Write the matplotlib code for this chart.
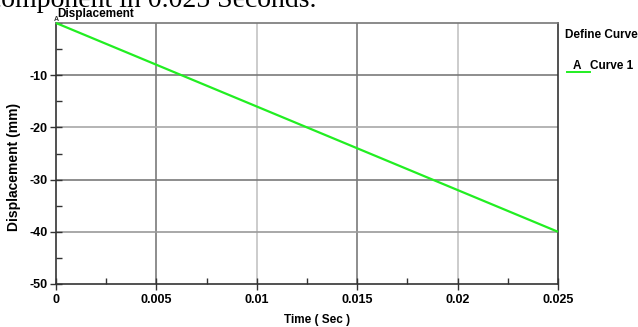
import matplotlib
matplotlib.use("Agg")
import matplotlib.pyplot as plt
from matplotlib.ticker import MultipleLocator

# Curve data: displacement vs time
time_sec = [0.0, 0.025]
displacement_mm = [0.0, -40.0]
x_ticks = [0, 0.005, 0.01, 0.015, 0.02, 0.025]
x_tick_labels = ["0", "0.005", "0.01", "0.015", "0.02", "0.025"]
y_ticks = [-50, -40, -30, -20, -10]
y_tick_labels = ["-50", "-40", "-30", "-20", "-10"]

plt.rcParams["font.family"] = ["Liberation Sans", "DejaVu Sans"]
plt.rcParams["font.weight"] = "bold"

W, H = 638, 327
fig = plt.figure(figsize=(W / 100, H / 100), dpi=100)
ax = fig.add_axes([56 / W, 1 - 284 / H, (558 - 56) / W, (284 - 23) / H])

ax.plot(time_sec, displacement_mm, color="#22ee22", lw=1.6, solid_capstyle="butt",
        zorder=3, clip_on=False)

ax.set_xlim(0, 0.025)
ax.set_ylim(-50, 0)
ax.set_xticks(x_ticks)
ax.set_xticklabels(x_tick_labels)
ax.set_yticks(y_ticks)
ax.set_yticklabels(y_tick_labels)
ax.xaxis.set_minor_locator(MultipleLocator(0.0025))
ax.yaxis.set_minor_locator(MultipleLocator(5))

ax.tick_params(axis="both", which="major", direction="inout", length=8, width=1,
               color="#333333", labelsize=9, pad=2)
ax.tick_params(axis="x", which="major", pad=3)
ax.tick_params(axis="both", which="minor", direction="in", length=4, width=1,
               color="#333333")
for lbl in ax.get_xticklabels() + ax.get_yticklabels():
    lbl.set_fontweight("bold")

# Grid lines, alternating shade
x_grid_colors = ["#7a7a7a", "#c4c4c4", "#7a7a7a", "#c4c4c4"]
for xv, c in zip(x_ticks[1:-1], x_grid_colors):
    ax.axvline(xv, color=c, lw=1.2, zorder=1)
y_grid_colors = ["#9a9a9a", "#7a7a7a", "#a8a8a8", "#7a7a7a"]
for yv, c in zip(y_ticks[1:], y_grid_colors):
    ax.axhline(yv, color=c, lw=1.2, zorder=1)

for side in ("left", "bottom", "right"):
    ax.spines[side].set_color("#333333")
    ax.spines[side].set_linewidth(1.2)
ax.spines["top"].set_color("#777777")
ax.spines["top"].set_linewidth(1.2)

ax.set_xlabel("Time ( Sec )", fontsize=8.5, fontweight="bold")
ax.xaxis.set_label_coords((317 - 56) / 502, -(320 - 284) / 261)
ax.xaxis.label.set_va("center")
ax.set_ylabel("Displacement (mm)", fontsize=10, fontweight="bold")
ax.yaxis.set_label_coords(-(56 - 14) / 502, (284 - 167) / 261)
ax.yaxis.label.set_va("center")

fig.text(57 / W, 1 - 14 / H, "Displacement", fontsize=8.5, fontweight="bold",
         ha="left", va="center")
ax.text(0, 0, "A", fontsize=5, fontweight="bold", ha="center", va="bottom",
        color="#333333")

# Curve legend to the right of the plot
fig.text(565 / W, 1 - 35 / H, "Define Curve", fontsize=8.5, fontweight="bold",
         ha="left", va="center")
fig.text(573 / W, 1 - 66 / H, "A", fontsize=8.5, fontweight="bold",
         ha="left", va="center")
fig.text(590 / W, 1 - 66 / H, "Curve 1", fontsize=8.5, fontweight="bold",
         ha="left", va="center")
fig.add_artist(plt.Line2D([567 / W, 590 / W], [1 - 71.5 / H, 1 - 71.5 / H],
                          color="#22ee22", lw=1.4))

# Running text from the surrounding page
fig.text(-11 / W, 1 - 7 / H, "component in 0.025 Seconds.", fontsize=20,
         family="Liberation Serif", fontweight="normal", ha="left", va="baseline")

fig.savefig("out.png", dpi=100)
